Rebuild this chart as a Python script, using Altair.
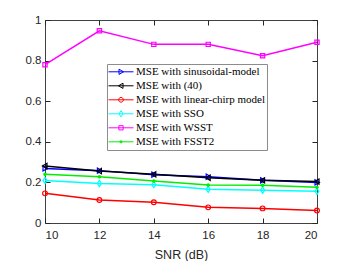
import altair as alt
import pandas as pd

# ---- data ----
snr_db = [10, 12, 14, 16, 18, 20]
series_names = [
    "MSE with sinusoidal-model",
    "MSE with (40)",
    "MSE with linear-chirp model",
    "MSE with SSO",
    "MSE with WSST",
    "MSE with FSST2",
]
mse_sinusoidal = [0.269, 0.258, 0.238, 0.228, 0.210, 0.200]
mse_eq40 = [0.281, 0.256, 0.240, 0.223, 0.210, 0.204]
mse_linear_chirp = [0.146, 0.113, 0.102, 0.077, 0.072, 0.062]
mse_sso = [0.209, 0.195, 0.189, 0.166, 0.161, 0.156]
mse_wsst = [0.780, 0.947, 0.880, 0.880, 0.824, 0.890]
mse_fsst2 = [0.240, 0.228, 0.207, 0.187, 0.186, 0.176]

x_ticks = [10, 12, 14, 16, 18, 20]
y_ticks = [0, 0.2, 0.4, 0.6, 0.8, 1]

# ---- styles ----
colors = ["#0000ff", "#000000", "#ff0000", "#00ffff", "#ff00ff", "#00ee00"]
line_widths = [1.5, 1.5, 1.0, 1.0, 1.0, 1.0]
marker_paths = [
    "M-0.16,-0.21L0.2,0L-0.16,0.21Z",
    "M0.16,-0.21L-0.2,0L0.16,0.21Z",
    "M-0.19,0A0.19,0.19,0,1,1,0.19,0A0.19,0.19,0,1,1,-0.19,0Z",
    "M0,-0.25L0.16,0L0,0.25L-0.16,0Z",
    "M-0.17,-0.17L0.17,-0.17L0.17,0.17L-0.17,0.17Z",
    "M-0.09,0A0.09,0.09,0,1,1,0.09,0A0.09,0.09,0,1,1,-0.09,0ZM-0.035,0A0.035,0.035,0,1,1,0.035,0A0.035,0.035,0,1,1,-0.035,0Z",
]

all_values = [mse_sinusoidal, mse_eq40, mse_linear_chirp, mse_sso, mse_wsst, mse_fsst2]
rows = []
for name, vals in zip(series_names, all_values):
    for s, v in zip(snr_db, vals):
        rows.append({"snr": s, "mse": v, "series": name})
df = pd.DataFrame(rows)

AX = "#262626"
FONT = "Liberation Sans"

x_scale = alt.Scale(domain=[10, 20], nice=False, zero=False)
y_scale = alt.Scale(domain=[0, 1], nice=False)
color_scale = alt.Scale(domain=series_names, range=colors)
shape_scale = alt.Scale(domain=series_names, range=marker_paths)
width_scale = alt.Scale(domain=series_names, range=line_widths)

legend_common = dict(
    title=None, orient="none", legendX=62, legendY=44,
    symbolSize=625, symbolStrokeWidth=1, clipHeight=13.6,
    rowPadding=0, padding=1, labelFont="Liberation Serif",
    labelFontSize=11, labelOffset=2, labelLimit=400,
)
line_legend = alt.Legend(symbolType="stroke", strokeColor="#8c8c8c",
                         fillColor="white", labelColor="black", **legend_common)
marker_legend = alt.Legend(labelOpacity=0, **legend_common)

axis_common = dict(domain=False, grid=False, tickSize=5, offset=-5,
                   tickColor=AX, labelColor=AX, labelFont=FONT,
                   labelFontSize=11.5, titleColor=AX, titleFont=FONT)

base = alt.Chart(df)

lines = base.mark_line().encode(
    x=alt.X("snr:Q", scale=x_scale,
            axis=alt.Axis(orient="bottom", values=x_ticks, title="SNR (dB)",
                          labelPadding=6, titleFontSize=12.5,
                          titleFontWeight="normal", titlePadding=8,
                          **axis_common)),
    y=alt.Y("mse:Q", scale=y_scale,
            axis=alt.Axis(orient="left", values=y_ticks, format=".1~f",
                          title=None, labelPadding=4, **axis_common)),
    color=alt.Color("series:N", scale=color_scale, legend=line_legend),
    strokeWidth=alt.StrokeWidth("series:N", scale=width_scale, legend=None),
)

points = base.mark_point(filled=False, opacity=1, strokeWidth=1.2).encode(
    x=alt.X("snr:Q", scale=x_scale,
            axis=alt.Axis(orient="top", values=x_ticks, labels=False,
                          title=None, **axis_common)),
    y=alt.Y("mse:Q", scale=y_scale,
            axis=alt.Axis(orient="right", values=y_ticks, labels=False,
                          title=None, **axis_common)),
    color=alt.Color("series:N", scale=color_scale, legend=marker_legend),
    shape=alt.Shape("series:N", scale=shape_scale, legend=marker_legend),
    size=alt.value(625),
)

chart = (
    alt.layer(lines, points)
    .resolve_axis(x="independent", y="independent")
    .resolve_legend(color="independent", shape="independent")
    .properties(
        width=272, height=203,
        autosize=alt.AutoSizeParams(type="none"),
        padding={"left": 37, "top": 12, "right": 22, "bottom": 38},
        background="white",
    )
    .configure_view(stroke="#404040", strokeWidth=1)
)

chart.save("out.html", embed_options={"renderer": "svg", "actions": False})
